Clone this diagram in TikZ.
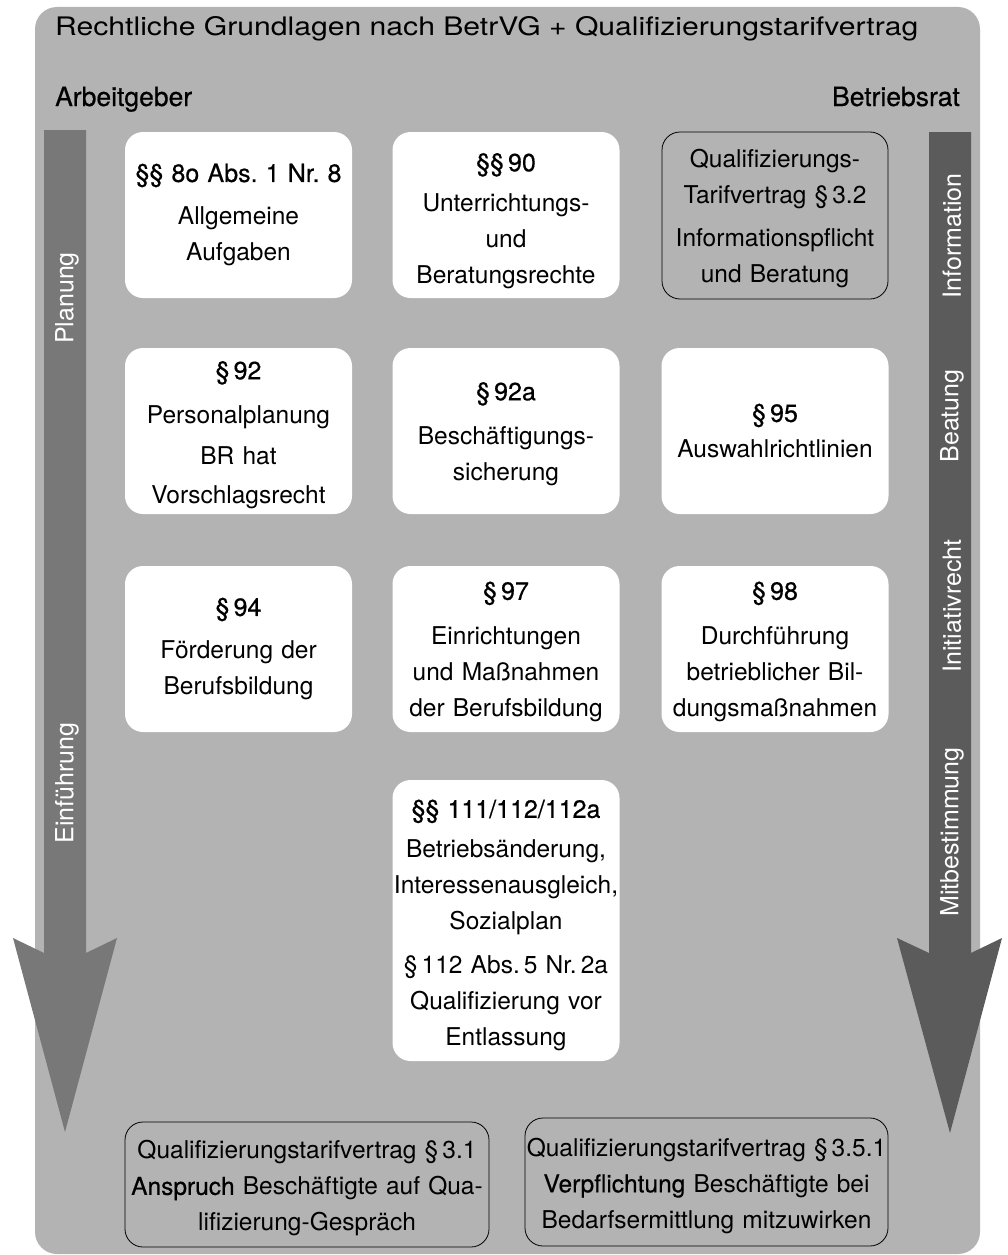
\documentclass[tikz,border=0pt]{standalone}
\usepackage{fontspec}
\usepackage{graphicx}
\setmainfont{TeX Gyre Heros}
\newfontfamily\medfont[FakeBold=0.5]{TeX Gyre Heros}
\frenchspacing
\definecolor{bggray}{HTML}{B3B3B3}
\definecolor{leftarrow}{HTML}{787878}
\definecolor{rightarrow}{HTML}{5B5B5B}
\newcommand{\hd}[1]{{\medfont\fontsize{25}{36}\selectfont #1}}
\tikzset{
  base/.style={rounded corners=18pt, align=center, inner xsep=0pt, inner ysep=0pt,
    font=\fontsize{24.5}{36}\selectfont},
  whitebox/.style={base, fill=white, text width=227pt, minimum height=166pt},
  outbox/.style={base, draw=black, line width=0.8pt},
  arrowlabel/.style={rotate=90, text=white, font=\fontsize{25}{30}\selectfont, inner sep=0pt},
  sidelabel/.style={inner sep=0pt, font=\medfont\fontsize{26.5}{30}\selectfont}
}
\begin{document}
\begin{tikzpicture}[x=1pt, y=-1pt]
\useasboundingbox (0,0) rectangle (1007,1255);
% background
\fill[bggray, rounded corners=22pt] (35,7) rectangle (980,1254);
% arrows
\fill[leftarrow] (44,130) -- (86,130) -- (86,953) -- (117,938) -- (65,1132) -- (13,938) -- (44,953) -- cycle;
\fill[rightarrow] (929,132) -- (971,132) -- (971,953) -- (1002,938) -- (950,1133) -- (897,938) -- (929,953) -- cycle;
% titles
\node[anchor=base west, inner sep=0pt] (title) at (55,36)
  {\resizebox{863pt}{\height}{\fontsize{25.5}{30}\selectfont Rechtliche Grundlagen nach BetrVG + Qualifizierungstarifvertrag}};
\node[sidelabel, anchor=base west] (ag) at (55,106) {Arbeitgeber};
\node[sidelabel, anchor=base east] (br) at (960,106) {Betriebsrat};
% arrow labels
\node[arrowlabel] (planung) at (67,298) {Planung};
\node[arrowlabel] (einf) at (67,783) {Einführung};
\node[arrowlabel] (info) at (952,236) {Information};
\node[arrowlabel] (beat) at (952,416) {Beatung};
\node[arrowlabel] (init) at (952,606) {Initiativrecht};
\node[arrowlabel] (mitb) at (952,832) {Mitbestimmung};
% row 1
\node[whitebox] (b1) at (238.5,215) {\hd{§§ 8o Abs. 1 Nr. 8}\\[7pt]Allgemeine\\Aufgaben};
\node[whitebox] (b2) at (506,215) {\hd{\rule{0pt}{30pt}§§\,90}\\[4pt]Unterrichtungs-\\und\\Beratungsrechte};
\node[outbox, text width=226pt, minimum height=167pt] (b3) at (775,215.5) {\rule{0pt}{24pt}Qualifizierungs-\\Tarifvertrag §\,3.2\\[7pt]Informationspflicht\\und Beratung};
% row 2
\node[whitebox] (b4) at (238.5,431) {\hd{\rule{0pt}{26pt}§\,92}\\[8pt]Personalplanung\\[5pt]BR hat\\[3pt]Vorschlagsrecht};
\node[whitebox] (b5) at (506,431) {\hd{\rule{0pt}{24pt}§\,92a}\\[8pt]Beschäftigungs-\\sicherung};
\node[whitebox] (b6) at (775,431) {\hd{§\,95}\\Auswahlrichtlinien};
% row 3
\node[whitebox] (b7) at (238.5,649) {\hd{§\,94}\\[7pt]Förderung der\\Berufsbildung};
\node[whitebox] (b8) at (506,649) {\hd{\rule{0pt}{24pt}§\,97}\\[9pt]Einrichtungen\\und Maßnahmen\\der Berufsbildung};
\node[whitebox] (b9) at (775,649) {\hd{\rule{0pt}{24pt}§\,98}\\[9pt]Durchführung\\betrieblicher Bil-\\dungsmaßnahmen};
% row 4
\node[whitebox, minimum height=281pt] (b10) at (506,920.5) {\hd{\rule{0pt}{28pt}§§ 111/112/112a}\\[4pt]Betriebsänderung,\\Interessenausgleich,\\Sozialplan\\[8pt]§\,112 Abs.\,5 Nr.\,2a\\Qualifizierung vor\\Entlassung};
% bottom
\node[outbox, text width=364pt, minimum height=125pt] (q1) at (307,1184.5) {\rule{0pt}{26pt}Qualifizierungstarifvertrag §\,3.1\\{\medfont Anspruch} Beschäftigte auf Qua-\\lifizierung-Gespräch};
\node[outbox, text width=363pt, minimum height=128pt] (q2) at (706.5,1182) {\rule{0pt}{26pt}Qualifizierungstarifvertrag §\,3.5.1\\{\medfont Verpflichtung} Beschäftigte bei\\Bedarfsermittlung mitzuwirken};
\end{tikzpicture}
\end{document}
